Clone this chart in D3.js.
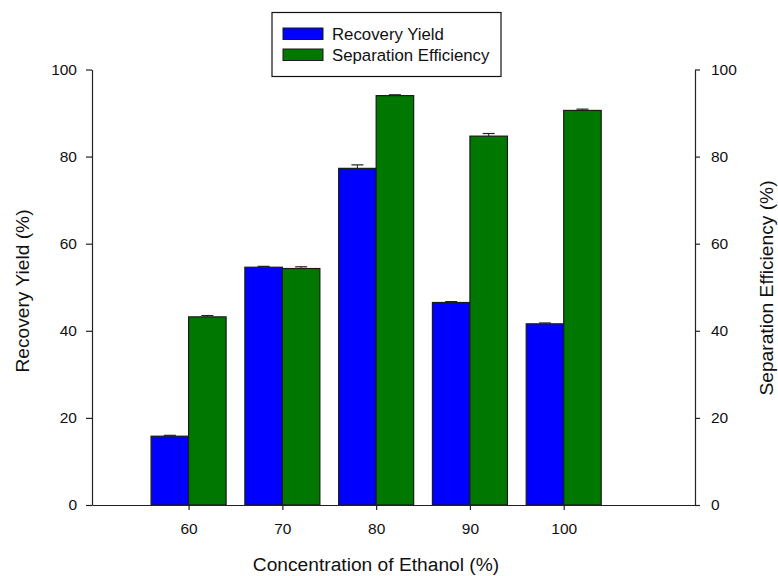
<!DOCTYPE html>
<html><head><meta charset="utf-8">
<script src="https://cdn.jsdelivr.net/npm/d3@7"></script>
<style>body{margin:0;background:#fff}svg{display:block}text{font-family:"Liberation Sans",Arial,sans-serif;fill:#111}</style>
</head><body><svg id="c" width="778" height="576"></svg>
<script>
const categories = [60, 70, 80, 90, 100];
const recoveryYield = [15.8, 54.6, 77.3, 46.5, 41.6];
const recoveryErr = [0.2, 0.2, 0.8, 0.2, 0.2];
const separationEff = [43.2, 54.3, 94.0, 84.7, 90.6];
const separationErr = [0.3, 0.4, 0.2, 0.6, 0.3];
const yTicks = [0, 20, 40, 60, 80, 100];
const seriesNames = ["Recovery Yield", "Separation Efficiency"];
const colors = ["#0000ff", "#007800"];

const svg = d3.select("#c");
const x = d3.scaleLinear().domain([49.7, 114]).range([92, 695]);
const yL = d3.scaleLinear().domain([0, 100]).range([505, 69.5]);
const yR = d3.scaleLinear().domain([0, 100]).range([505, 69.5]);
const bw = 4;

const series = [
  {vals: recoveryYield, err: recoveryErr, off: -bw, color: colors[0], y: yL},
  {vals: separationEff, err: separationErr, off: 0, color: colors[1], y: yR}
];

series.forEach(s => {
  const g = svg.append("g");
  g.selectAll("rect").data(categories).enter().append("rect")
    .attr("x", (d) => x(d + s.off))
    .attr("width", x(bw) - x(0))
    .attr("y", (d, i) => s.y(s.vals[i]))
    .attr("height", (d, i) => s.y(0) - s.y(s.vals[i]))
    .attr("fill", s.color).attr("stroke", "#1a1a1a").attr("stroke-width", 1.2);
  categories.forEach((d, i) => {
    const cx = x(d + s.off + bw / 2);
    const top = s.y(s.vals[i] + s.err[i]);
    g.append("line").attr("x1", cx).attr("x2", cx).attr("y1", s.y(s.vals[i])).attr("y2", top).attr("stroke", "#222");
    g.append("line").attr("x1", cx - 6).attr("x2", cx + 6).attr("y1", top).attr("y2", top).attr("stroke", "#222").attr("stroke-width", 1.2);
  });
});

// axes
const xAxis = d3.axisBottom(x).tickValues(categories).tickSize(5).tickPadding(13).tickSizeOuter(0);
const gx = svg.append("g").attr("transform", "translate(0,505)").call(xAxis);
const gl = svg.append("g").attr("transform", "translate(92,0)").call(d3.axisLeft(yL).tickValues(yTicks).tickSize(6).tickPadding(9).tickSizeOuter(0));
const gr = svg.append("g").attr("transform", "translate(695,0)").call(d3.axisRight(yR).tickValues(yTicks).tickSize(5).tickPadding(11).tickSizeOuter(0));
[gx, gl, gr].forEach(g => {
  g.selectAll("text").attr("font-size", 15.5).style("font-family", '"Liberation Sans",Arial,sans-serif').attr("fill", "#111");
  g.selectAll("path,line").attr("stroke", "#222").attr("stroke-width", 1.2);
});

svg.append("text").attr("x", 376).attr("y", 571).attr("text-anchor", "middle").attr("font-size", 19.2).text("Concentration of Ethanol (%)");
svg.append("text").attr("transform", "translate(29,291) rotate(-90)").attr("text-anchor", "middle").attr("font-size", 19.2).text("Recovery Yield (%)");
svg.append("text").attr("transform", "translate(773,288) rotate(-90)").attr("text-anchor", "middle").attr("font-size", 19.2).text("Separation Efficiency (%)");

// legend
const lg = svg.append("g");
lg.append("rect").attr("x", 272).attr("y", 12.5).attr("width", 229).attr("height", 64).attr("fill", "#fff").attr("stroke", "#111").attr("stroke-width", 1.2);
seriesNames.forEach((n, i) => {
  lg.append("rect").attr("x", 283).attr("y", 28 + i * 21).attr("width", 40).attr("height", 11.5).attr("fill", colors[i]).attr("stroke", "#1a1a1a");
  lg.append("text").attr("x", 332).attr("y", 39.5 + i * 21).attr("font-size", 16.8).text(n);
});
</script></body></html>
